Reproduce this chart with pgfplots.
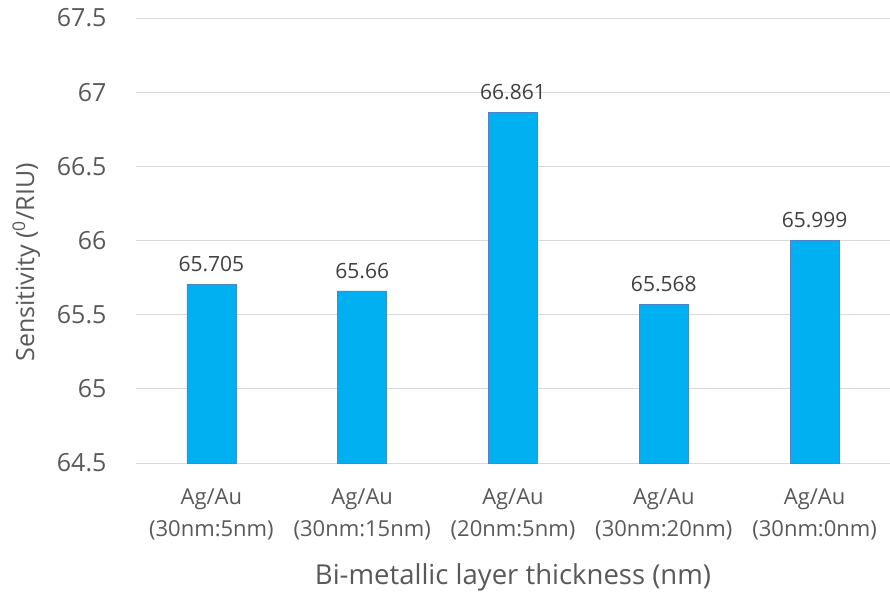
\documentclass[border=0pt]{standalone}
\usepackage{pgfplots}
\pgfplotsset{compat=1.18}
\usepackage{fontspec}
\setmainfont{Open Sans}
\definecolor{barblue}{HTML}{00B0F0}
\definecolor{baredge}{HTML}{4A86C8}
\definecolor{gridgray}{HTML}{D9D9D9}
\definecolor{ticktext}{HTML}{595959}
\definecolor{labeltext}{HTML}{404040}
\begin{document}
\begin{tikzpicture}
\useasboundingbox (-136pt,-129pt) rectangle (754pt,463pt);
\begin{axis}[
  at={(0pt,0pt)}, anchor=south west,
  scale only axis,
  width=754pt, height=445pt,
  xmin=-0.5, xmax=4.5,
  ymin=64.5, ymax=67.5,
  ytick={64.5,65,65.5,66,66.5,67,67.5},
  yticklabels={64.5,65,65.5,66,66.5,67,67.5},
  xtick={0,1,2,3,4},
  xticklabels={{Ag/Au\\(30nm:5nm)},{Ag/Au\\(30nm:15nm)},{Ag/Au\\(20nm:5nm)},{Ag/Au\\(30nm:20nm)},{Ag/Au\\(30nm:0nm)}},
  xticklabel style={align=center, font=\fontsize{22}{32}\selectfont, text=ticktext, yshift=-22pt},
  yticklabel style={font=\fontsize{25}{28}\selectfont, text=ticktext, xshift=-26pt},
  major tick length=0pt,
  ymajorgrids, grid style={gridgray, line width=0.9pt},
  axis line style={draw=none},
  axis x line*=bottom,
  axis y line*=left,
  ylabel={Sensitivity (\textsuperscript{0}/RIU)},
  ylabel style={font=\fontsize{25}{27}\selectfont, text=ticktext, yshift=10pt, xshift=-22pt},
  xlabel={Bi-metallic layer thickness (nm)},
  xlabel style={font=\fontsize{27.5}{30}\selectfont, text=ticktext, yshift=-17pt},
  nodes near coords,
  every node near coord/.append style={font=\fontsize{21}{23}\selectfont, text=labeltext, yshift=9pt, /pgf/number format/precision=3, /pgf/number format/fixed, /pgf/number format/assume math mode=true},
  /pgf/number format/assume math mode=true,
  clip=false,
]
\draw[gridgray, line width=0.9pt] (axis cs:-0.5,64.5) -- (axis cs:4.5,64.5);
\addplot[ybar, bar width=49pt, fill=barblue, draw=baredge, line width=0.6pt]
  coordinates {(0,65.705) (1,65.66) (2,66.861) (3,65.568) (4,65.999)};
\end{axis}
\end{tikzpicture}
\end{document}
